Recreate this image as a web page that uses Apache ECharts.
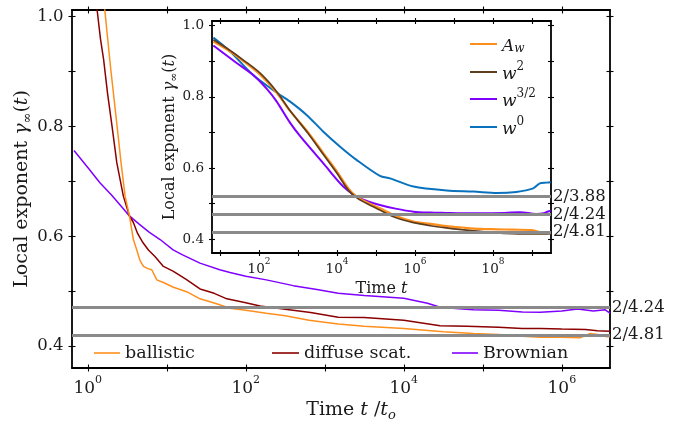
<!DOCTYPE html>
<html><head><meta charset="utf-8">
<script src="https://cdn.jsdelivr.net/npm/echarts@6/dist/echarts.min.js"></script>
<style>html,body{margin:0;padding:0;background:#fff}#c{width:682px;height:424px}</style>
</head><body><div id="c"></div>
<script>
// ---------- main panel: x = log10(t/t_o), y = local exponent ----------
const ballisticLogT = [0.15,0.215,0.29,0.371,0.42,0.472,0.527,0.577,0.62,0.66,0.704,0.76,0.81,0.873,0.957,1.084,1.25,1.42,1.63,1.8,2.0,2.26,2.5,2.8,3.17,3.5,4.0,4.5,4.88,5.2,5.5,5.73,6.0,6.23,6.3,6.36,6.45,6.57,6.61];
const ballisticGamma = [1.10,1.012,0.905,0.80,0.735,0.673,0.637,0.594,0.575,0.556,0.545,0.541,0.539,0.5205,0.5157,0.507,0.499,0.486,0.477,0.469,0.465,0.4597,0.455,0.447,0.440,0.436,0.432,0.426,0.423,0.421,0.418,0.416,0.416,0.415,0.419,0.423,0.421,0.417,0.417];
const diffuseLogT = [0.08,0.118,0.16,0.2,0.25,0.307,0.367,0.45,0.527,0.577,0.63,0.69,0.767,0.85,0.957,1.084,1.25,1.42,1.6,1.76,2.0,2.18,2.5,2.82,3.17,3.5,4.0,4.46,4.8,5.2,5.5,5.73,6.0,6.3,6.45,6.61];
const diffuseGamma = [1.07,1.012,0.96,0.922,0.86,0.80,0.734,0.673,0.637,0.625,0.605,0.59,0.575,0.563,0.545,0.536,0.521,0.504,0.496,0.486,0.479,0.473,0.467,0.461,0.4524,0.452,0.447,0.437,0.436,0.434,0.432,0.432,0.431,0.430,0.428,0.427];
const brownianLogT = [-0.175,0.0,0.156,0.3,0.42,0.527,0.65,0.78,0.915,1.08,1.2,1.42,1.67,1.8,2.0,2.26,2.6,2.9,3.17,3.5,4.0,4.3,4.46,4.7,4.88,5.2,5.5,5.73,6.0,6.2,6.4,6.55,6.61];
const brownianGamma = [0.756,0.725,0.697,0.675,0.655,0.637,0.622,0.607,0.594,0.575,0.566,0.551,0.539,0.534,0.527,0.5205,0.510,0.503,0.496,0.492,0.487,0.478,0.4707,0.468,0.466,0.465,0.462,0.4615,0.464,0.4676,0.464,0.466,0.460];
const mainPlateauDenoms = [4.24, 4.81];
const mainXTicks = [0,1,2,3,4,5,6];
const mainXLabels = [0,2,4,6];
const mainYTicks = [0.4,0.5,0.6,0.7,0.8,0.9,1.0];
const mainYLabels = [0.4,0.6,0.8,1.0];

// ---------- inset: x = log10(t) ----------
const awLogT = [0.83,1.26,1.6,2.03,2.45,2.79,3.26,3.65,4.0,4.29,4.5,4.8,5.1,5.5,5.96,6.4,6.8,7.2,7.67,8.1,8.5,8.98,9.2,9.48];
const awGamma = [0.955,0.927,0.9,0.862,0.812,0.761,0.70,0.642,0.59,0.543,0.52,0.502,0.487,0.466,0.4495,0.443,0.437,0.433,0.429,0.428,0.427,0.426,0.42,0.418];
const w2LogT = [0.83,1.26,1.6,2.03,2.45,2.79,3.26,3.65,4.0,4.29,4.5,4.8,5.1,5.5,5.96,6.4,6.8,7.2,7.67,8.1,8.5,8.98,9.2,9.48];
const w2Gamma = [0.96,0.93,0.903,0.866,0.815,0.762,0.697,0.638,0.585,0.538,0.517,0.498,0.482,0.461,0.4467,0.438,0.432,0.427,0.422,0.418,0.416,0.415,0.415,0.416];
const w32LogT = [0.83,1.4,1.85,2.2,2.45,2.79,3.05,3.65,4.16,4.5,4.8,5.1,5.5,5.96,6.4,6.8,7.2,7.67,8.3,8.69,9.11,9.3,9.41,9.48];
const w32Gamma = [0.944,0.897,0.861,0.822,0.787,0.728,0.69,0.613,0.548,0.52,0.506,0.496,0.486,0.4776,0.475,0.474,0.473,0.473,0.474,0.476,0.471,0.473,0.478,0.48];
const w0LogT = [0.83,1.26,1.85,2.45,2.79,3.22,3.65,4.08,4.5,5.1,5.36,5.96,6.81,7.5,8.1,8.6,9.03,9.2,9.37,9.48];
const w0Gamma = [0.966,0.927,0.861,0.812,0.787,0.749,0.702,0.66,0.623,0.578,0.571,0.548,0.537,0.534,0.53,0.533,0.543,0.557,0.559,0.56];
const insetPlateauDenoms = [3.88, 4.24, 4.81];
const insetXTicks = [1,2,3,4,5,6,7,8,9];
const insetXLabels = [2,4,6,8];
const insetYTicks = [0.4,0.5,0.6,0.7,0.8,0.9,1.0];
const insetYLabels = [0.4,0.6,0.8,1.0];

const FONT = 'DejaVu Serif';
const TXT = '#1a1a1a';
const C_ORANGE = '#ff8f1c', C_DRED = '#8b0000', C_PURPLE = '#8000ff', C_BROWN = '#5e3d1e', C_BLUE = '#0a72bd';

const pairs = (xs, ys) => xs.map((x, i) => [x, ys[i]]);

function mkAxis(o) {
  const ax = {
    type: 'value', gridIndex: o.grid, position: o.pos, min: o.min, max: o.max,
    axisLine: {show: o.line, onZero: false, lineStyle: {color: '#000', width: o.lw || 1.8}},
    axisTick: {show: true, inside: o.inside, length: o.tl, customValues: o.ticks, lineStyle: {color: '#000', width: 1.1}},
    axisLabel: o.label ? Object.assign({show: true}, o.label) : {show: false},
    splitLine: {show: false}, axisPointer: {show: false}
  };
  if (o.name) {
    ax.name = o.name; ax.nameLocation = 'middle'; ax.nameGap = o.nameGap;
    ax.nameTextStyle = o.nameStyle; if (o.nameRotate) ax.nameRotate = o.nameRotate;
    ax.nameMoveOverlap = false;
  }
  return ax;
}
const xLab = (vals, base, supSize, margin) => ({
  customValues: vals, margin: margin,
  formatter: v => '{b|10}{s|' + Math.round(v) + '}',
  rich: {
    b: {fontFamily: FONT, fontSize: base, lineHeight: base + 6, verticalAlign: 'bottom', color: TXT},
    s: {fontFamily: FONT, fontSize: supSize, lineHeight: supSize, verticalAlign: 'top', color: TXT}
  }
});
const yLab = (vals, size, margin) => ({
  customValues: vals, margin: margin, fontFamily: FONT, fontSize: size, color: TXT,
  formatter: v => v.toFixed(1)
});
const nameStyle = (size, pad) => ({
  fontFamily: FONT, fontSize: size, color: TXT, lineHeight: size + 5, padding: pad || 0,
  rich: {
    i: {fontFamily: FONT, fontStyle: 'italic', fontSize: size, lineHeight: size + 5, color: TXT},
    n: {fontFamily: FONT, fontSize: size, lineHeight: size + 5, color: TXT},
    sub: {fontFamily: FONT, fontStyle: 'italic', fontSize: Math.round(size * 0.7), lineHeight: Math.round(size * 0.62), verticalAlign: 'bottom', color: TXT},
    subn: {fontFamily: FONT, fontSize: Math.round(size * 0.7), lineHeight: Math.round(size * 0.62), verticalAlign: 'bottom', color: TXT}
  }
});
const yName = 'Local exponent {i|γ}{subn|∞}{n|(}{i|t}{n|)}';

const MX = [-0.2, 6.61], MY = [0.36, 1.012];
const IX = [0.795, 9.487], IY = [0.3615, 1.0126];

const xAxes = [
  mkAxis({grid: 0, pos: 'bottom', min: MX[0], max: MX[1], line: true, inside: false, tl: 3.5, ticks: mainXTicks,
    label: xLab(mainXLabels, 17, 11, 6.5), name: 'Time {i|t}{n| /}{i|t}{sub|o}', nameGap: 30, nameStyle: nameStyle(19, [0, 0, 0, 20])}),
  mkAxis({grid: 0, pos: 'bottom', min: MX[0], max: MX[1], line: false, inside: true, tl: 3.5, ticks: mainXTicks}),
  mkAxis({grid: 0, pos: 'top', min: MX[0], max: MX[1], line: true, inside: false, tl: 3.5, ticks: mainXTicks}),
  mkAxis({grid: 0, pos: 'top', min: MX[0], max: MX[1], line: false, inside: true, tl: 3.5, ticks: mainXTicks}),
  mkAxis({grid: 1, pos: 'bottom', min: IX[0], max: IX[1], line: true, inside: false, tl: 3, ticks: insetXTicks,
    label: xLab(insetXLabels, 13.5, 9, 4), name: 'Time {i|t}', nameGap: 25, nameStyle: nameStyle(16)}),
  mkAxis({grid: 1, pos: 'bottom', min: IX[0], max: IX[1], line: false, inside: true, tl: 3, ticks: insetXTicks}),
  mkAxis({grid: 1, pos: 'top', min: IX[0], max: IX[1], line: true, inside: false, tl: 3, ticks: insetXTicks}),
  mkAxis({grid: 1, pos: 'top', min: IX[0], max: IX[1], line: false, inside: true, tl: 3, ticks: insetXTicks})
];
const yAxes = [
  mkAxis({grid: 0, pos: 'left', min: MY[0], max: MY[1], line: true, inside: false, tl: 3.5, ticks: mainYTicks,
    label: yLab(mainYLabels, 16.5, 8.5), name: yName, nameGap: 38, nameRotate: 90, nameStyle: nameStyle(19)}),
  mkAxis({grid: 0, pos: 'left', min: MY[0], max: MY[1], line: false, inside: true, tl: 3.5, ticks: mainYTicks}),
  mkAxis({grid: 0, pos: 'right', min: MY[0], max: MY[1], line: true, inside: false, tl: 3.5, ticks: mainYTicks}),
  mkAxis({grid: 0, pos: 'right', min: MY[0], max: MY[1], line: false, inside: true, tl: 3.5, ticks: mainYTicks}),
  mkAxis({grid: 1, pos: 'left', min: IY[0], max: IY[1], line: true, inside: false, tl: 3, ticks: insetYTicks,
    label: yLab(insetYLabels, 13.5, 8), name: yName, nameGap: 32, nameRotate: 90, nameStyle: nameStyle(16)}),
  mkAxis({grid: 1, pos: 'left', min: IY[0], max: IY[1], line: false, inside: true, tl: 3, ticks: insetYTicks}),
  mkAxis({grid: 1, pos: 'right', min: IY[0], max: IY[1], line: true, inside: false, tl: 3, ticks: insetYTicks}),
  mkAxis({grid: 1, pos: 'right', min: IY[0], max: IY[1], line: false, inside: true, tl: 3, ticks: insetYTicks})
];

const plateauLines = (denoms) => ({
  silent: true, symbol: ['none', 'none'], animation: false,
  lineStyle: {color: '#8a8a8a', width: 3, type: 'solid'},
  emphasis: {disabled: true},
  label: {show: true, position: 'end', distance: 2, fontFamily: FONT, fontSize: 16.5, color: TXT, formatter: p => p.name},
  data: denoms.map(d => ({name: '2/' + d.toFixed(2), yAxis: 2 / d}))
});

const lineSeries = (name, data, color, width, xi, extra) => Object.assign({
  type: 'line', name: name, data: data, xAxisIndex: xi, yAxisIndex: xi,
  symbol: 'none', showSymbol: false, clip: true, silent: true,
  lineStyle: {color: color, width: width}, itemStyle: {color: color}, z: 3
}, extra || {});

const series = [
  lineSeries('Brownian', pairs(brownianLogT, brownianGamma), C_PURPLE, 1.5, 0),
  lineSeries('diffuse scat.', pairs(diffuseLogT, diffuseGamma), C_DRED, 1.5, 0),
  lineSeries('ballistic', pairs(ballisticLogT, ballisticGamma), C_ORANGE, 1.5, 0, {markLine: plateauLines(mainPlateauDenoms)}),
  lineSeries('w^0', pairs(w0LogT, w0Gamma), C_BLUE, 2, 4, {smooth: 0.3}),
  lineSeries('w^{3/2}', pairs(w32LogT, w32Gamma), C_PURPLE, 2, 4, {smooth: 0.3}),
  lineSeries('A_w', pairs(awLogT, awGamma), C_ORANGE, 2.2, 4, {smooth: 0.3, markLine: plateauLines(insetPlateauDenoms)}),
  lineSeries('w^2', pairs(w2LogT, w2Gamma), C_BROWN, 1.7, 4, {smooth: 0.3})
];

const legendNames = {
  'ballistic': 'ballistic', 'diffuse scat.': 'diffuse scat.', 'Brownian': 'Brownian',
  'A_w': '{i|A}{sub|w}', 'w^2': '{i|w}{sup|2}', 'w^{3/2}': '{i|w}{sup|3/2}', 'w^0': '{i|w}{sup|0}'
};
const legendRich = {
  i: {fontFamily: FONT, fontStyle: 'italic', fontSize: 17, lineHeight: 22, verticalAlign: 'bottom', color: TXT},
  sub: {fontFamily: FONT, fontStyle: 'italic', fontSize: 12, lineHeight: 10, verticalAlign: 'bottom', color: TXT},
  sup: {fontFamily: FONT, fontSize: 12, lineHeight: 12, verticalAlign: 'top', color: TXT}
};
const mkLegend = (name, left, top, w, h) => ({
  data: [name], left: left, top: top, padding: 0, itemGap: 0, itemWidth: w, itemHeight: h,
  icon: 'rect', selectedMode: false, formatter: n => legendNames[n],
  textStyle: {fontFamily: FONT, fontSize: 17.5, color: TXT, lineHeight: 22, height: 22, rich: legendRich}
});

const chart = echarts.init(document.getElementById('c'), null, {renderer: 'canvas'});
chart.setOption({
  animation: false,
  backgroundColor: '#fff',
  textStyle: {fontFamily: FONT},
  grid: [
    {left: 72, top: 10, width: 538, height: 358, containLabel: false, outerBoundsMode: 'none'},
    {left: 212, top: 21, width: 339, height: 232, containLabel: false, outerBoundsMode: 'none', show: true, backgroundColor: '#fff', borderWidth: 0}
  ],
  legend: [
    mkLegend('ballistic', 94, 342, 26, 1.6),
    mkLegend('diffuse scat.', 272, 342, 27, 1.6),
    mkLegend('Brownian', 452, 342, 26, 1.6),
    mkLegend('A_w', 470, 33, 27, 2),
    mkLegend('w^2', 470, 61, 27, 2),
    mkLegend('w^{3/2}', 470, 88, 27, 2),
    mkLegend('w^0', 470, 116, 27, 2)
  ],
  xAxis: xAxes,
  yAxis: yAxes,
  series: series
});
</script>
</body></html>
